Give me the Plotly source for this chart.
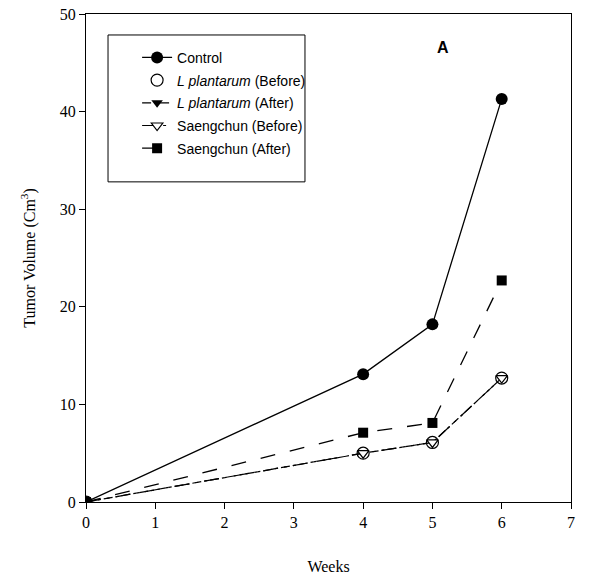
import plotly.graph_objects as go

weeks = [0, 4, 5, 6]
control = [0, 13.1, 18.2, 41.3]
lp_before = [0, 5.0, 6.1, 12.7]
lp_after = [0, 5.0, 6.1, 12.7]
sc_before = [0, 5.0, 6.1, 12.7]
sc_after = [0, 7.1, 8.1, 22.7]

x_ticks = [0, 1, 2, 3, 4, 5, 6, 7]
y_ticks = [0, 10, 20, 30, 40, 50]

fig = go.Figure()
fig.add_trace(go.Scatter(x=weeks, y=control, name="Control", mode="lines+markers",
                         line=dict(color="black", width=1.3, dash="solid"),
                         marker=dict(symbol="circle", size=12, color="black")))
fig.add_trace(go.Scatter(x=weeks, y=lp_after, name="<i>L plantarum</i> (After)", mode="lines+markers",
                         line=dict(color="black", width=1.2, dash="dashdot"),
                         marker=dict(symbol="triangle-down", size=10, color="black")))
fig.add_trace(go.Scatter(x=weeks, y=sc_before, name="Saengchun (Before)", mode="lines+markers",
                         line=dict(color="black", width=1.2, dash="longdashdot"),
                         marker=dict(symbol="triangle-down", size=10, color="white",
                                     line=dict(color="black", width=1.2))))
fig.add_trace(go.Scatter(x=weeks, y=lp_before, name="<i>L plantarum</i> (Before)", mode="markers",
                         marker=dict(symbol="circle-open", size=12, color="black",
                                     line=dict(color="black", width=1.2))))
fig.add_trace(go.Scatter(x=weeks, y=sc_after, name="Saengchun (After)", mode="lines+markers",
                         line=dict(color="black", width=1.3, dash="longdash"),
                         marker=dict(symbol="square", size=10, color="black")))

# legend order
order = {"Control": 1, "<i>L plantarum</i> (Before)": 2, "<i>L plantarum</i> (After)": 3,
         "Saengchun (Before)": 4, "Saengchun (After)": 5}
for i, t in enumerate(fig.data):
    t.legendrank = order[t.name]
    t.legendgroup = "g%d" % i

fig.add_annotation(x=5.15, y=46.6, xref="x", yref="y", text="<b>A</b>", showarrow=False,
                   font=dict(family="Liberation Sans, Arial", size=16, color="black"))

# legend frame
fig.add_shape(type="rect", xref="paper", yref="paper", x0=0.0454, x1=0.4515, y0=0.656, y1=0.957,
              line=dict(color="black", width=1), fillcolor="white", layer="above")

fig.update_layout(
    width=589, height=585,
    margin=dict(l=86, r=18, t=14, b=83, autoexpand=False),
    paper_bgcolor="white", plot_bgcolor="white",
    showlegend=True,
    legend=dict(x=0.06, y=0.943, xanchor="left", yanchor="top",
                bgcolor="rgba(0,0,0,0)", borderwidth=0,
                font=dict(family="Liberation Sans, Arial", size=14, color="black"),
                tracegroupgap=1.5, itemwidth=30, indentation=22,
                traceorder="grouped"),
    xaxis=dict(range=[0, 7], tickvals=x_ticks, ticks="outside", ticklen=6,
               tickcolor="black", showline=True, linecolor="black", linewidth=1.3,
               mirror=True, showgrid=False, zeroline=False, automargin=False,
               tickfont=dict(family="Liberation Serif, Times New Roman", size=16, color="black"),
               title=dict(text="Weeks", standoff=30,
                          font=dict(family="Liberation Serif, Times New Roman", size=16, color="black"))),
    yaxis=dict(range=[0, 50], tickvals=y_ticks, ticks="outside", ticklen=6,
               tickcolor="black", showline=True, linecolor="black", linewidth=1.3,
               mirror=True, showgrid=False, zeroline=False, automargin=False,
               tickfont=dict(family="Liberation Serif, Times New Roman", size=16, color="black"),
               title=dict(text="Tumor Volume (Cm<sup>3</sup>)", standoff=20,
                          font=dict(family="Liberation Serif, Times New Roman", size=16, color="black"))),
)

fig.write_html("out.html")
